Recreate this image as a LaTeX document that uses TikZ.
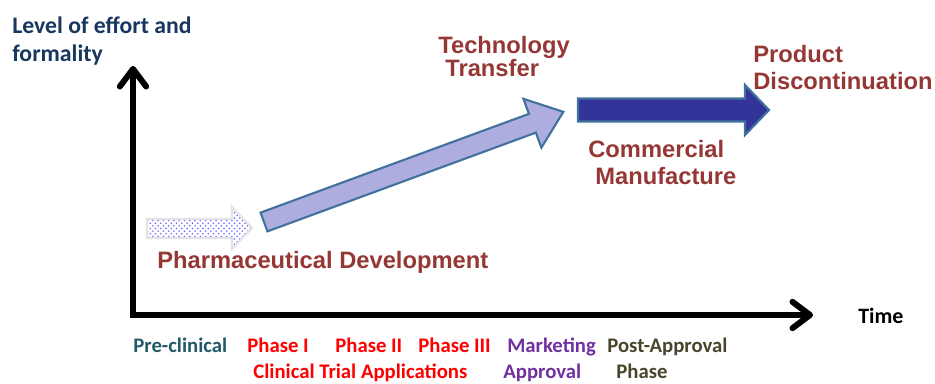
\documentclass[tikz,border=0pt]{standalone}
\usepackage{fontspec}
\setmainfont{Liberation Sans}
\newfontfamily\calibri{Carlito}
\usetikzlibrary{arrows.meta, patterns}

\definecolor{labelred}{HTML}{953735}
\definecolor{navy}{HTML}{17375E}
\definecolor{tealdark}{HTML}{215967}
\definecolor{mktpurple}{HTML}{7030A0}
\definecolor{olivedark}{HTML}{4A452A}
\definecolor{edgeblue}{HTML}{41719C}
\definecolor{lavender}{HTML}{ADADE0}
\definecolor{indigo}{HTML}{333399}

\begin{document}
\begin{tikzpicture}[x=0.02cm, y=-0.02cm,
    stage/.style={anchor=base west, inner sep=0pt, align=left, text=labelred,
        font=\fontsize{13.5}{15.6}\selectfont\bfseries},
    phase/.style={anchor=base west, inner sep=0pt,
        font=\calibri\fontsize{11.8}{14}\selectfont\bfseries},
    axis/.style={line width=3.4pt, line join=miter,
        {Straight Barb[length=10pt, width=15pt, line cap=round, line join=round]}-{Straight Barb[length=10pt, width=15pt, line cap=round, line join=round]}}]

    \useasboundingbox (0,0) rectangle (935,384);

    % axes
    \coordinate (origin) at (133,315);
    \coordinate (ytop) at (133,66);
    \coordinate (xend) at (813,315);
    \draw[axis] (ytop) -- (origin) -- (xend);

    \node[anchor=base west, inner sep=0pt, align=left, text=navy,
        font=\calibri\fontsize{13.5}{16.4}\selectfont\bfseries] (ylabel) at (12,62) {Level of effort and\\formality};
    \node[anchor=base west, inner sep=0pt,
        font=\calibri\fontsize{12.5}{14}\selectfont\bfseries] (xlabel) at (858,324) {Time};

    % block arrows
    \draw[draw=gray!22, line width=1.2pt, pattern=crosshatch dots, pattern color=blue!60]
        (147,219) -- (232,219) -- (232,207) -- (252,228) -- (232,249) -- (232,238) -- (147,238) -- cycle;

    \begin{scope}[shift={(264,222)}, rotate=20.2]
        \draw[draw=edgeblue, fill=lavender, line width=1.2pt]
            (0,-10) -- (286,-10) -- (286,-26) -- (319,0) -- (286,26) -- (286,10) -- (0,10) -- cycle;
    \end{scope}

    \draw[draw=edgeblue, fill=indigo, line width=1.2pt]
        (578,98.5) -- (745,98.5) -- (745,85) -- (769,110) -- (745,135) -- (745,121.5) -- (578,121.5) -- cycle;

    % stage labels
    \node[stage] (pharmdev) at (157,269) {Pharmaceutical Development};
    \node[stage] (techtransfer) at (438,77) {Technology\\[-2pt]\hspace*{4pt}Transfer};
    \node[stage] (commercial) at (588,185) {Commercial\\\hspace*{4pt}Manufacture};
    \node[stage] (discontinue) at (753,90) {Product\\Discontinuation};

    % time line labels
    \node[phase, text=tealdark] (preclin) at (133,353) {Pre-clinical};
    \node[phase, text=red] (phase1) at (247,353) {Phase I};
    \node[phase, text=red] (phase2) at (335,353) {Phase II};
    \node[phase, text=red] (phase3) at (418,353) {Phase III};
    \node[phase, text=red] (cta) at (253,378) {Clinical Trial Applications};
    \node[phase, text=mktpurple] (marketing) at (507,353) {Marketing};
    \node[phase, text=mktpurple] (approval) at (503,378) {Approval};
    \node[phase, text=olivedark] (postappr) at (607,353) {Post-Approval};
    \node[phase, text=olivedark] (postphase) at (616,378) {Phase};
\end{tikzpicture}
\end{document}
